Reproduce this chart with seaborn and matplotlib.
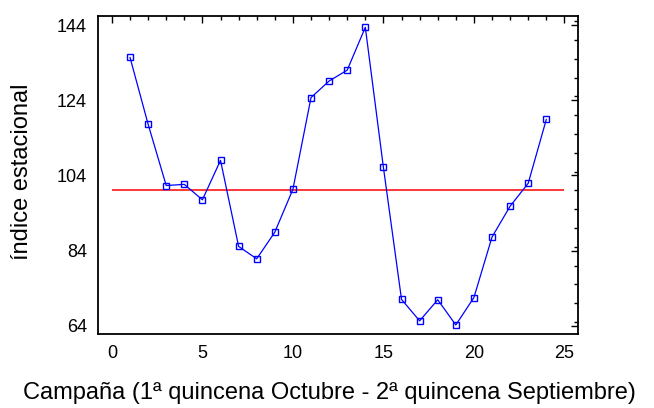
import numpy as np
import pandas as pd
import matplotlib
matplotlib.use("Agg")
import matplotlib.pyplot as plt
import seaborn as sns
from matplotlib.ticker import MultipleLocator

# Seasonal index per fortnight of the campaign
periodo = list(range(1, 25))
indice = [135.4, 117.6, 101.3, 101.6, 97.5, 108.0, 85.1, 81.8, 88.9, 100.3,
          124.7, 129.1, 132.0, 143.4, 106.1, 71.0, 65.3, 70.9, 64.2, 71.5,
          87.6, 95.8, 101.9, 118.9]
referencia = 100.0
x_ticks = [0, 5, 10, 15, 20, 25]
y_ticks = [64, 84, 104, 124, 144]

sns.set_style("white")
plt.rcParams["font.family"] = ["Liberation Sans", "DejaVu Sans"]
plt.rcParams["text.color"] = "black"
plt.rcParams["axes.labelcolor"] = "black"
plt.rcParams["xtick.color"] = "black"
plt.rcParams["ytick.color"] = "black"

df = pd.DataFrame({"periodo": periodo, "indice": indice})

fig = plt.figure(figsize=(6.54, 4.08), dpi=100)
ax = fig.add_axes([0.1498, 0.1814, 0.7340, 0.7794])

ax.hlines(referencia, 0, 25, color="#ff0000", linewidth=1.1, zorder=2)
sns.lineplot(data=df, x="periodo", y="indice", ax=ax, color="#0000ff",
             linewidth=0.9, marker="s", markersize=4.2,
             markerfacecolor="none", markeredgecolor="#0000ff",
             markeredgewidth=1.0, zorder=3)

ax.set_xlim(-0.77, 25.75)
ax.set_ylim(61.8, 146.4)
ax.set_xticks(x_ticks)
ax.set_yticks(y_ticks)
ax.xaxis.set_minor_locator(MultipleLocator(1))
ax.yaxis.set_minor_locator(MultipleLocator(5))

ax.tick_params(which="both", direction="in", top=True, right=True,
               color="black", width=1.0, labelsize=13, pad=8,
               labelcolor="black")
ax.tick_params(which="major", length=5)
ax.tick_params(which="minor", length=3)

for s in ax.spines.values():
    s.set_color("black")
    s.set_linewidth(1.3)

ax.set_xlabel("Campaña (1ª quincena Octubre - 2ª quincena Septiembre)",
              fontsize=17, labelpad=14, color="black")
ax.xaxis.label.set_x(0.483)
ax.set_ylabel("índice estacional", fontsize=17, color="black")
ax.yaxis.set_label_coords(-0.135, 0.51)

fig.savefig("out.png", dpi=100)
